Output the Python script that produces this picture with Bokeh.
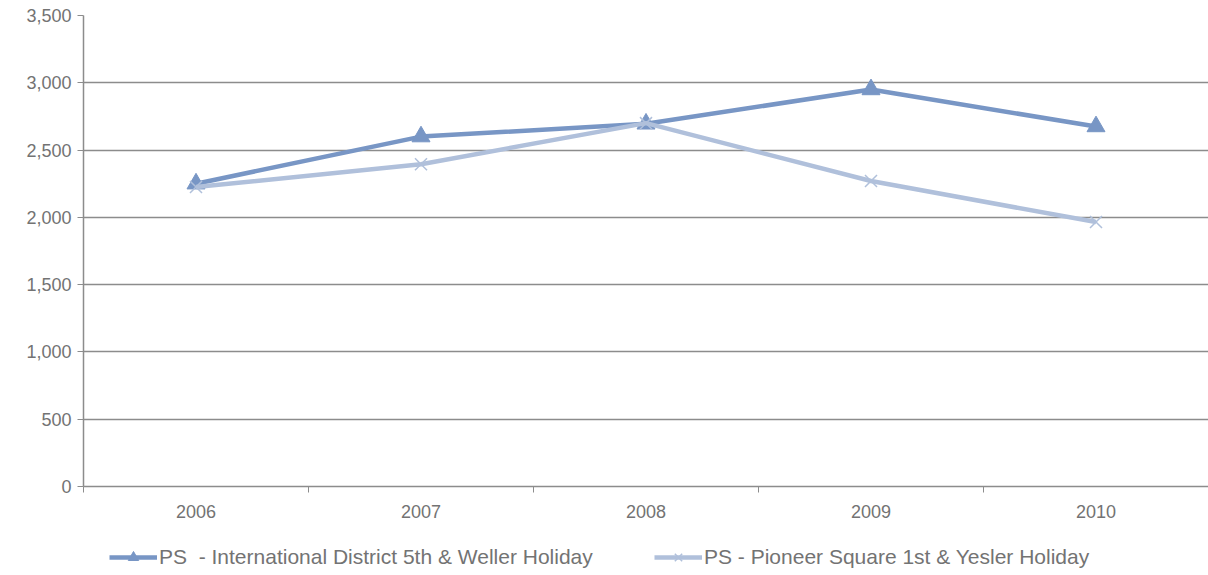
from bokeh.plotting import figure
from bokeh.layouts import column
from bokeh.models import FixedTicker, Legend, LegendItem, NumeralTickFormatter, Range1d
from bokeh.embed import file_html
from bokeh.resources import INLINE

years = ["2006", "2007", "2008", "2009", "2010"]
intl_district = [2250, 2600, 2695, 2950, 2675]
pioneer_square = [2225, 2395, 2700, 2270, 1965]
name_id = "PS  - International District 5th & Weller Holiday"
name_ps = "PS - Pioneer Square 1st & Yesler Holiday"

xs = list(range(1, len(years) + 1))

c1 = "#7896C5"
c2 = "#B0C0DB"
grey = "#8C8C8C"
txt = "#737373"
font = "Liberation Sans"

p = figure(width=1208, height=526, output_backend="svg", toolbar_location=None,
           x_range=Range1d(0.5, len(years) + 0.5), y_range=Range1d(0, 3500),
           min_border_left=83, min_border_right=0, min_border_top=15,
           min_border_bottom=40)
p.outline_line_color = None
p.background_fill_color = "white"
p.border_fill_color = "white"

p.line(xs, intl_district, line_color=c1, line_width=4.5)
p.scatter(xs, intl_district, marker="triangle", size=18, fill_color=c1, line_color=c1)
p.line(xs, pioneer_square, line_color=c2, line_width=4.5)
p.scatter(xs, pioneer_square, marker="x", size=17, line_color=c2, line_width=1.5)

p.xaxis.ticker = FixedTicker(ticks=xs, minor_ticks=[i + 0.5 for i in range(0, len(years) + 1)])
p.xaxis.major_label_overrides = {i: y for i, y in zip(xs, years)}
p.xaxis.major_tick_out = 0
p.xaxis.major_tick_in = 0
p.xaxis.minor_tick_out = 6
p.xaxis.minor_tick_in = 0
p.xaxis.minor_tick_line_color = grey
p.xaxis.axis_line_color = grey
p.xaxis.axis_line_width = 1.5
p.xaxis.major_label_standoff = 12

p.yaxis.ticker = FixedTicker(ticks=list(range(0, 3501, 500)))
p.yaxis.formatter = NumeralTickFormatter(format="0,0")
p.yaxis.major_tick_out = 6
p.yaxis.major_tick_in = 0
p.yaxis.major_tick_line_color = grey
p.yaxis.minor_tick_line_color = None
p.yaxis.axis_line_color = grey
p.yaxis.axis_line_width = 1.5
p.yaxis.major_label_standoff = 6

for ax in (p.xaxis, p.yaxis):
    ax.major_label_text_font = font
    ax.major_label_text_font_size = "18px"
    ax.major_label_text_color = txt

p.xgrid.grid_line_color = None
p.ygrid.grid_line_color = grey
p.ygrid.grid_line_width = 1.5
p.ygrid.ticker = FixedTicker(ticks=list(range(500, 3501, 500)))

# legend strip below the chart (series drawn out of view, only their legend glyphs show)
q = figure(width=1208, height=49, output_backend="svg", toolbar_location=None,
           x_range=Range1d(0, 0.5), y_range=Range1d(0, 1),
           min_border_left=0, min_border_right=0, min_border_top=0, min_border_bottom=0)
q.axis.visible = False
q.grid.visible = False
q.outline_line_color = None
q.border_fill_color = "white"

ql1 = q.line(xs, intl_district, line_color=c1, line_width=4.5)
qs1 = q.scatter(xs, intl_district, marker="triangle", size=12, fill_color=c1, line_color=c1)
ql2 = q.line(xs, pioneer_square, line_color=c2, line_width=4.5)
qs2 = q.scatter(xs, pioneer_square, marker="x", size=12, line_color=c2, line_width=1.5)

common = dict(orientation="horizontal", border_line_color=None, background_fill_alpha=0,
              label_text_font=font, label_text_font_size="21px",
              label_text_color=txt, glyph_width=48, glyph_height=26,
              label_standoff=2, spacing=0, margin=0, padding=4)
leg1 = Legend(items=[LegendItem(label=name_id, renderers=[ql1, qs1])], location=(26, 5), **common)
leg2 = Legend(items=[LegendItem(label=name_ps, renderers=[ql2, qs2])], location=(571, 5), **common)
q.add_layout(leg1, "center")
q.add_layout(leg2, "center")

open("out.html", "w").write(file_html(column(p, q, spacing=0), INLINE))
